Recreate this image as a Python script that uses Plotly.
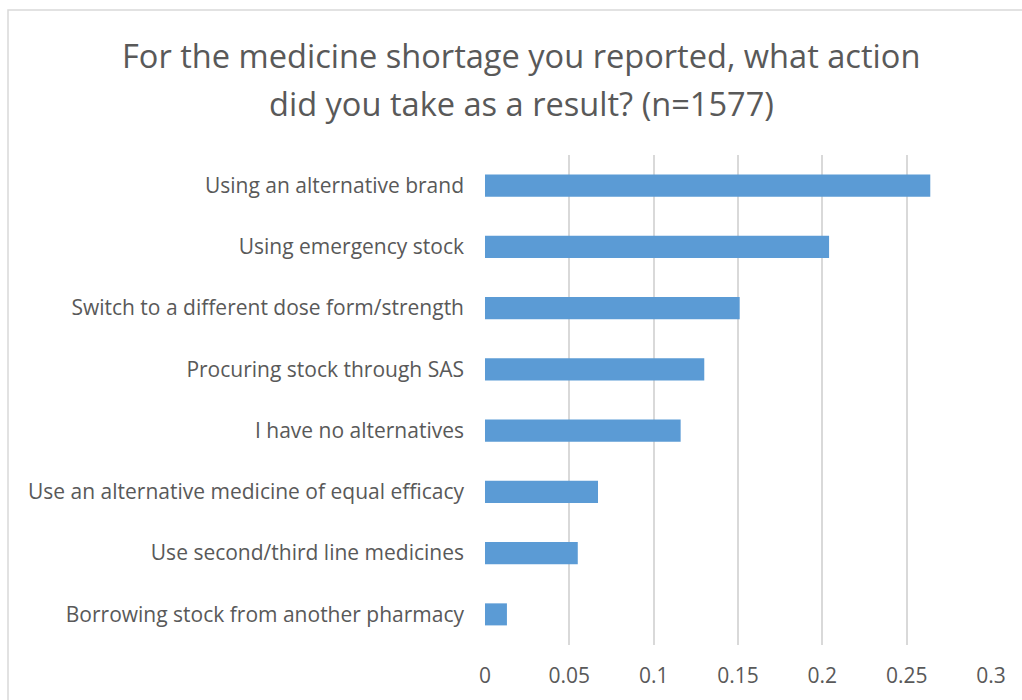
import plotly.graph_objects as go

categories = [
    "Using an alternative brand",
    "Using emergency stock",
    "Switch to a different dose form/strength",
    "Procuring stock through SAS",
    "I have no alternatives",
    "Use an alternative medicine of equal efficacy",
    "Use second/third line medicines",
    "Borrowing stock from another pharmacy",
]
values = [0.264, 0.204, 0.151, 0.130, 0.116, 0.067, 0.055, 0.013]
tick_vals = [0, 0.05, 0.1, 0.15, 0.2, 0.25, 0.3]
tick_text = ["0", "0.05", "0.1", "0.15", "0.2", "0.25", "0.3"]
title_lines = ["For the medicine shortage you reported, what action",
               "did you take as a result? (n=1577)"]

FONT = "Open Sans"
GREY = "#595959"
W, H = 1022, 700
L, R, T, B = 485, 31, 155, 55
LBL = 21

fig = go.Figure(go.Bar(
    x=values, y=categories, orientation="h",
    marker=dict(color="#5B9BD5", line=dict(width=0)),
))

fig.update_layout(
    width=W, height=H,
    margin=dict(l=L, r=R, t=T, b=B),
    paper_bgcolor="white", plot_bgcolor="white",
    showlegend=False,
    bargap=0.64,
    font=dict(family=FONT, color=GREY, size=LBL),
    xaxis=dict(range=[0, 0.3], tickvals=tick_vals, ticktext=tick_text,
               showgrid=True, gridcolor="#D9D9D9", gridwidth=2,
               zeroline=False, showline=False,
               ticks="", ticklabelstandoff=16,
               tickfont=dict(family=FONT, size=LBL, color=GREY)),
    yaxis=dict(autorange="reversed", showgrid=False, zeroline=False, showline=False,
               ticks="", ticklabelstandoff=20,
               tickfont=dict(family=FONT, size=LBL, color=GREY)),
)

# title lines
for line, ypx in zip(title_lines, [55, 103]):
    fig.add_annotation(text=line, xref="paper", yref="paper",
                       x=(521 - L) / (W - L - R), y=1 + (T - ypx) / (H - T - B),
                       xanchor="center", yanchor="middle", showarrow=False,
                       font=dict(family=FONT, size=32.6, color=GREY))

# chart border (partly cropped)
pw, ph = W - L - R, H - T - B
fig.add_shape(type="rect", xref="paper", yref="paper",
              x0=(8 - L) / pw, x1=(1040 - L) / pw,
              y0=1 + (T - 720) / ph, y1=1 + (T - 10) / ph,
              line=dict(color="#D9D9D9", width=1.5), layer="below")

fig.write_html("out.html")
